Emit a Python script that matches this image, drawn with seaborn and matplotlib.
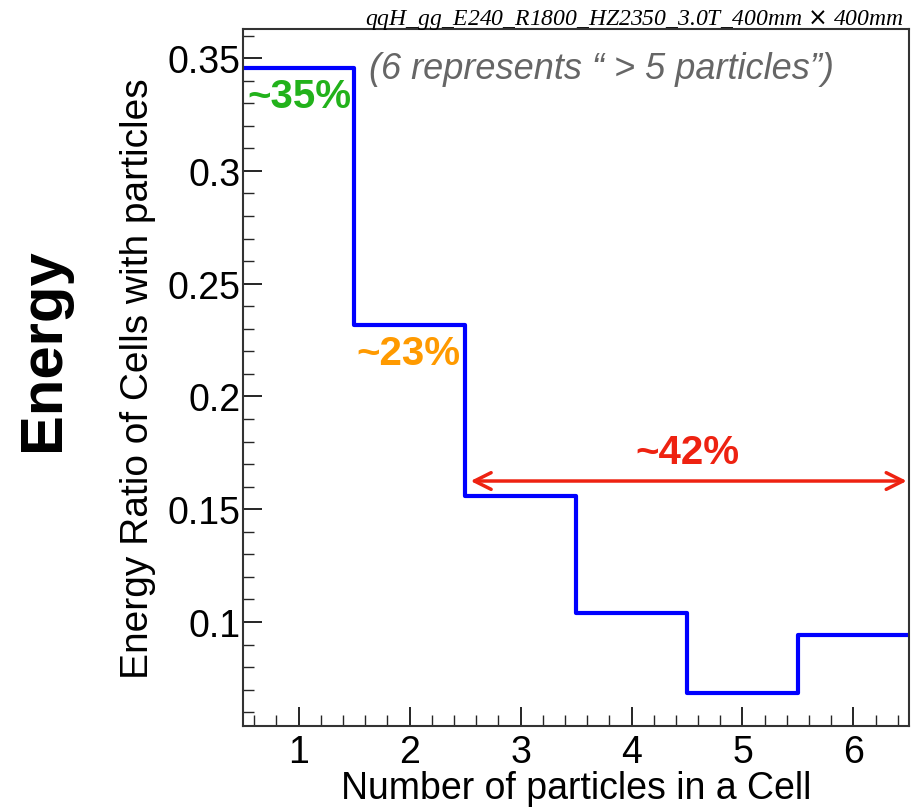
import numpy as np
import pandas as pd
import matplotlib
matplotlib.use("Agg")
import matplotlib.pyplot as plt
from matplotlib.ticker import MultipleLocator
import seaborn as sns

# Energy fraction per cell multiplicity (6 = more than 5 particles)
n_particles = [1, 2, 3, 4, 5, 6]
energy_ratio = [0.3456, 0.2317, 0.1559, 0.1040, 0.0685, 0.0942]
tick_labels = ["1", "2", "3", "4", "5", "6"]

sns.set_theme(style="white")
plt.rcParams["font.family"] = ["Liberation Sans", "DejaVu Sans"]

fig = plt.figure(figsize=(9.13, 8.12), dpi=100)
ax = fig.add_axes([0.2662, 0.1047, 0.7294, 0.8584])

df = pd.DataFrame({"n": n_particles, "ratio": energy_ratio})
sns.histplot(data=df, x="n", weights="ratio", discrete=True,
             element="step", fill=False, color="#0000ff", linewidth=3, ax=ax)

ax.set_xlim(0.5, 6.5)
ax.set_ylim(0.0539, 0.3629)
ax.set_xticks(n_particles)
ax.set_xticklabels(tick_labels)
ax.xaxis.set_minor_locator(MultipleLocator(0.2))
ax.yaxis.set_minor_locator(MultipleLocator(0.01))
yt = [0.1, 0.15, 0.2, 0.25, 0.3, 0.35]
ax.set_yticks(yt)
ax.set_yticklabels(["0.1", "0.15", "0.2", "0.25", "0.3", "0.35"])
ax.tick_params(axis="both", which="major", direction="in", length=14, width=1.2,
               labelsize=27, colors="black")
ax.tick_params(axis="both", which="minor", direction="in", length=8, width=1.0)
ax.tick_params(axis="x", which="both", bottom=True, top=False, pad=6)
ax.tick_params(axis="y", which="both", left=True, right=False, pad=2)
for s in ax.spines.values():
    s.set_color("#333333")
    s.set_linewidth(1.5)

ax.set_xlabel("Number of particles in a Cell", fontsize=27, color="black", labelpad=0)
ax.set_ylabel("Energy Ratio of Cells with particles", fontsize=28, color="black", labelpad=8)

fig.text(0.048, 0.57, "Energy", rotation=90, fontsize=43, fontweight="bold",
         ha="center", va="center", color="black")

fig.text(0.99, 0.975, r"qqH_gg_E240_R1800_HZ2350_3.0T_400mm $\times$ 400mm",
         fontsize=17, family="Liberation Serif", style="italic",
         ha="right", va="center", color="black")

ax.text(3.73, 0.3455, "(6 represents \u201c > 5 particles\u201d)", fontsize=26,
        style="italic", color="#666666", ha="center", va="center")

ax.text(0.54, energy_ratio[0] - 0.0125, "~35%", fontsize=29, fontweight="bold",
        color="#22b21b", ha="left", va="center")
ax.text(1.52, energy_ratio[1] - 0.0125, "~23%", fontsize=29, fontweight="bold",
        color="#ff9a00", ha="left", va="center")
ax.text(4.5, 0.1755, "~42%", fontsize=29, fontweight="bold",
        color="#ee2211", ha="center", va="center")
ax.annotate("", xy=(2.55, 0.1625), xytext=(6.48, 0.1625),
            arrowprops=dict(arrowstyle="<->", color="#ee2211", lw=2.5,
                            mutation_scale=30, shrinkA=0, shrinkB=0))

fig.savefig("out.png", dpi=100)
